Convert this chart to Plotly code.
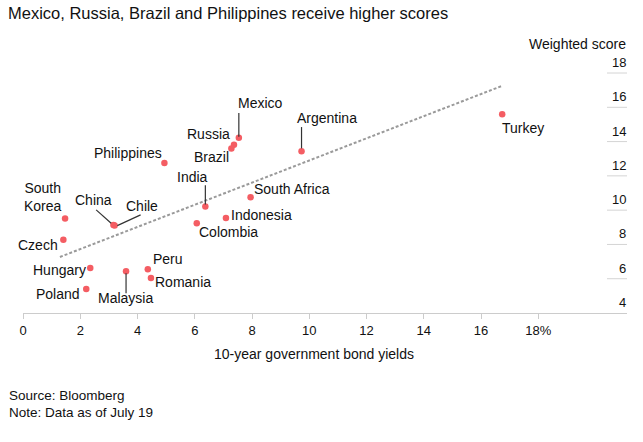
import plotly.graph_objects as go

# ---------------- data ----------------
countries = ["Turkey", "Argentina", "Mexico", "Russia", "Brazil", "Philippines",
             "India", "South Africa", "Indonesia", "Colombia", "China", "Chile",
             "South Korea", "Czech", "Hungary", "Malaysia", "Peru", "Romania", "Poland"]
yields = [16.74, 9.73, 7.54, 7.37, 7.28, 4.94,
          6.37, 7.95, 7.09, 6.07, 3.16, 3.20,
          1.47, 1.41, 2.35, 3.60, 4.36, 4.47, 2.21]
scores = [15.59, 13.43, 14.23, 13.82, 13.59, 12.75,
          10.21, 10.75, 9.54, 9.23, 9.14, 9.10,
          9.51, 8.28, 6.63, 6.43, 6.55, 6.04, 5.40]

trend_x = [1.29, 16.72]
trend_y = [7.27, 17.24]

x_ticks = [0, 2, 4, 6, 8, 10, 12, 14, 16, 18]
x_ticktext = ["0", "2", "4", "6", "8", "10", "12", "14", "16", "18%"]
y_ticks = [4, 6, 8, 10, 12, 14, 16, 18]

title = "Mexico, Russia, Brazil and Philippines receive higher scores"
x_title = "10-year government bond yields"
y_title = "Weighted score"
notes = ["Source: Bloomberg", "Note: Data as of July 19"]

# ---------------- layout geometry ----------------
W, H = 643, 442
ML, MR, MT, MB = 23, 16, 60, 129
PW, PH = W - ML - MR, H - MT - MB
XR = [0, 21.1]
YR = [4, 18.76]
XS = PW / (XR[1] - XR[0])
YS = PH / (YR[1] - YR[0])

FONT = "Liberation Sans, Arial, Helvetica, sans-serif"
DOT = "#f45d63"

# label placement (pixel offsets from point): anchor, dx, dy(down +)
label_pos = {
    "Turkey": ("left", 0, 14),
    "Argentina": ("left", -5, -33),
    "Mexico": ("left", -1, -35),
    "Russia": ("right", -4, -11),
    "Brazil": ("right", -2, 8),
    "Philippines": ("right", -2, -10),
    "India": ("center", -13, -30),
    "South Africa": ("left", 3.5, -8.3),
    "Indonesia": ("left", 5, -2.7),
    "Colombia": ("left", 2.5, 8.7),
    "China": ("center", -19.5, -25),
    "Chile": ("center", 27.5, -20),
    "South Korea": ("right", -3, -22),
    "Czech": ("right", -5, 5.4),
    "Hungary": ("right", -4, 1.6),
    "Malaysia": ("center", -1, 27),
    "Peru": ("left", 5, -10),
    "Romania": ("left", 4, 4),
    "Poland": ("right", -6, 4.6),
}
# leader lines (pixel offsets from point): x0, y0, x1, y1 (down +)
leaders = {
    "Mexico": (0, -1, 0, -24.6),
    "Argentina": (0, -3, 0, -24.3),
    "India": (0, -2, 0, -21.3),
    "Malaysia": (0, 2, 0, 22),
    "China": (-2.3, -1.7, -17.3, -15),
    "Chile": (2.7, 0, 26, -10.7),
}

fig = go.Figure()

fig.add_trace(go.Scatter(
    x=trend_x, y=trend_y, mode="lines",
    line=dict(color="#9a9a9a", width=2, dash="3px,2px"),
    hoverinfo="skip", showlegend=False))

fig.add_trace(go.Scatter(
    x=yields, y=scores, mode="markers", text=countries,
    marker=dict(color=DOT, size=6.5, line=dict(width=0)),
    hoverinfo="text", showlegend=False))

annotations = []
shapes = []
for name, xv, yv in zip(countries, yields, scores):
    anchor, dx, dy = label_pos[name]
    txt = "South<br>Korea" if name == "South Korea" else name
    annotations.append(dict(
        x=xv, y=yv, xref="x", yref="y", text=txt, showarrow=False,
        xanchor=anchor, yanchor="middle", xshift=dx, yshift=-dy,
        align="center", borderpad=0, borderwidth=0,
        font=dict(family=FONT, size=14, color="#111")))
    if name in leaders:
        x0, y0, x1, y1 = leaders[name]
        shapes.append(dict(
            type="line", xref="x", yref="y",
            x0=xv + x0 / XS, y0=yv - y0 / YS, x1=xv + x1 / XS, y1=yv - y1 / YS,
            line=dict(color="#333", width=1.2)))

# y tick labels above short gridlines (right side)
for t in y_ticks:
    annotations.append(dict(
        x=1, y=t, xref="paper", yref="y", text=str(t), showarrow=False,
        xanchor="right", yanchor="bottom", yshift=2, borderpad=0,
        font=dict(family=FONT, size=13, color="#111")))
    if t != y_ticks[0]:
        shapes.append(dict(
            type="line", xref="paper", yref="y",
            x0=(607 - ML) / PW, x1=1, y0=t, y1=t,
            line=dict(color="#d4d4d4", width=1)))

annotations.append(dict(
    x=1, y=(MT + PH - 44) / PH, xref="paper", yref="paper", text=y_title,
    showarrow=False, xanchor="right", yanchor="middle", borderpad=0,
    font=dict(family=FONT, size=14, color="#111")))

annotations.append(dict(
    x=(313.5 - ML) / PW, y=(MT + PH - 354) / PH, xref="paper", yref="paper",
    text=x_title, showarrow=False, xanchor="center", yanchor="middle",
    font=dict(family=FONT, size=14, color="#111")))

for i, (note, py) in enumerate(zip(notes, [395, 412])):
    annotations.append(dict(
        x=(8 - ML) / PW, y=(MT + PH - py) / PH, xref="paper", yref="paper",
        text=note, showarrow=False, xanchor="left", yanchor="middle", borderpad=0,
        font=dict(family=FONT, size=13.5, color="#111")))

fig.update_layout(
    width=W, height=H,
    margin=dict(l=ML, r=MR, t=MT, b=MB),
    paper_bgcolor="white", plot_bgcolor="white",
    title=dict(text=title, xref="container", yref="container",
               x=8 / W, y=1 - 13 / H, xanchor="left", yanchor="middle",
               font=dict(family=FONT, size=16.5, color="#111")),
    xaxis=dict(range=XR, tickvals=x_ticks, ticktext=x_ticktext,
               showgrid=False, zeroline=False, showline=True,
               linecolor="#cccccc", linewidth=1,
               ticks="outside", ticklen=5, tickcolor="#cccccc",
               tickfont=dict(family=FONT, size=13, color="#111")),
    yaxis=dict(range=YR, visible=False, showgrid=False, zeroline=False),
    annotations=annotations,
    shapes=shapes,
    showlegend=False,
)

fig.write_html("out.html")
